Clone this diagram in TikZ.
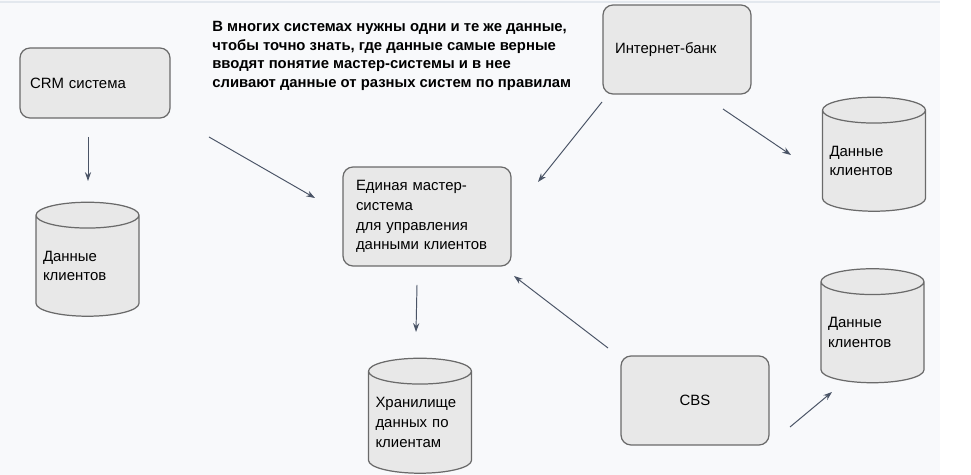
\documentclass[tikz,border=0pt]{standalone}
\usepackage{fontspec}
\setmainfont{Liberation Sans}
\usetikzlibrary{shapes.geometric,arrows.meta}

\definecolor{bgcol}{HTML}{F8F9FB}
\definecolor{edgecol}{HTML}{E3E8EE}
\definecolor{boxfill}{HTML}{E8E8E8}
\definecolor{boxline}{HTML}{6A6A6A}
\definecolor{arrowcol}{HTML}{4A5466}

\tikzset{
	sysbox/.style={draw=boxline, fill=boxfill, line width=0.7pt, rounded corners=0.2cm,
		minimum width=2.96cm, minimum height=1.78cm, inner sep=0pt,
		font=\fontsize{8.5}{11.3}\selectfont},
	dbbox/.style={cylinder, shape border rotate=90, aspect=0.29, draw=boxline, fill=boxfill,
		line width=0.7pt, minimum width=2.06cm, minimum height=2.28cm, inner sep=0pt,
		text width=1.78cm, align=left, font=\fontsize{8.5}{11.3}\selectfont},
	flow/.style={draw=arrowcol, line width=0.55pt, -{Stealth[length=5pt,width=3.5pt]}}
}

\begin{document}
\begin{tikzpicture}[x=0.02cm, y=-0.02cm]
		\useasboundingbox (0,0) rectangle (971,475);
		%background
		\fill[white] (0,0) rectangle (971,475);
		\fill[bgcol] (0,0) rectangle (940,475);
		\draw[edgecol, line width=1pt] (0,2) -- (940,2);
		
		%title
		\node[anchor=west, align=left, inner sep=0pt, font=\fontsize{8.45}{10.5}\selectfont\bfseries] (title) at (212,56)
			{В многих системах нужны одни и те же данные,\\
			 чтобы точно знать, где данные самые верные\\
			 вводят понятие мастер-системы и в нее\\
			 сливают данные от разных систем по правилам};
		
		%systems
		\node[sysbox, minimum width=3cm, minimum height=1.4cm, text width=2.6cm, align=left] (crm) at (95,83) {CRM система};
		\node[sysbox, text width=2.48cm, align=left] (ibank) at (677,49.5) {Интернет-банк};
		\node[sysbox, minimum width=3.36cm, minimum height=1.98cm, text width=2.84cm, align=left] (master) at (427,216.5)
			{Единая мастер-\\система\\для управления\\данными клиентов};
		\node[sysbox, align=center] (cbs) at (695,400.5) {CBS};
		
		%databases
		\node[dbbox] (crmdb) at (87.5,266) {Данные\\клиентов};
		\node[dbbox, minimum height=2.3cm] (store) at (420,422.5) {Хранилище\\данных по\\клиентам};
		\node[dbbox] (ibankdb) at (874,161) {Данные\\клиентов};
		\node[dbbox] (cbsdb) at (872.5,332.5) {Данные\\клиентов};
		
		%arrow ends
		\coordinate (crm out) at (88,137);
		\coordinate (crmdb in) at (88,181);
		\coordinate (crm out2) at (209,137);
		\coordinate (master in1) at (315,198);
		\coordinate (master out) at (417,285);
		\coordinate (store in) at (416,332);
		\coordinate (ibank out) at (602,102);
		\coordinate (master in2) at (538,182);
		\coordinate (ibank out2) at (723,109);
		\coordinate (ibankdb in) at (791,155);
		\coordinate (cbs out) at (608,348);
		\coordinate (master in3) at (514,276);
		\coordinate (cbs out2) at (790,427);
		\coordinate (cbsdb in) at (832,392);
		
		\draw[flow] (crm out) -- (crmdb in);
		\draw[flow] (crm out2) -- (master in1);
		\draw[flow] (master out) -- (store in);
		\draw[flow] (ibank out) -- (master in2);
		\draw[flow] (ibank out2) -- (ibankdb in);
		\draw[flow] (cbs out) -- (master in3);
		\draw[flow] (cbs out2) -- (cbsdb in);
\end{tikzpicture}
\end{document}
